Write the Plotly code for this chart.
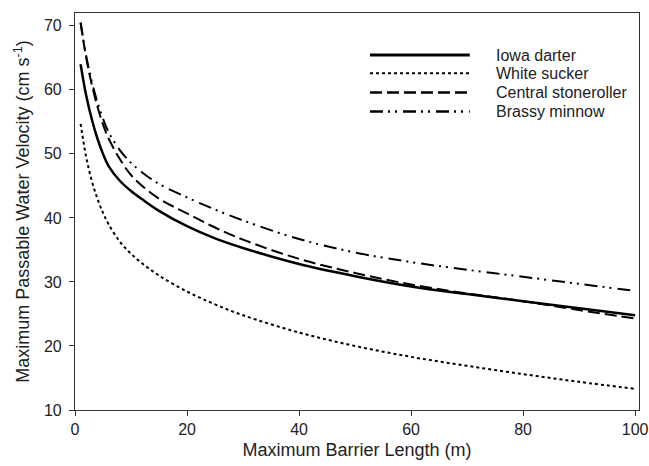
import plotly.graph_objects as go

barrier_length = [1, 2, 3, 4, 5, 6, 8, 10, 12, 15, 20, 25, 30, 40, 50, 60, 70, 80, 90, 100]

iowa_darter = [64.0, 59.1, 55.4, 52.4, 50.0, 48.1, 45.8, 44.2, 42.9, 41.1, 38.7, 36.8, 35.3,
               32.8, 30.9, 29.3, 28.1, 27.0, 25.9, 24.8]
white_sucker = [54.7, 49.5, 45.8, 43.0, 40.8, 39.0, 36.3, 34.4, 32.9, 31.0, 28.5, 26.5, 24.8,
                22.1, 20.0, 18.3, 16.9, 15.6, 14.4, 13.3]
central_stoneroller = [70.5, 65.0, 60.8, 57.4, 54.6, 52.4, 49.2, 46.7, 45.0, 43.0, 40.7, 38.5, 36.6,
                       33.6, 31.4, 29.6, 28.2, 27.0, 25.6, 24.3]
brassy_minnow = [70.5, 65.3, 61.3, 58.1, 55.5, 53.4, 50.6, 48.6, 47.1, 45.3, 43.2, 41.3, 39.6,
                 36.7, 34.6, 33.1, 31.9, 30.8, 29.7, 28.6]

series_names = ["Iowa darter", "White sucker", "Central stoneroller", "Brassy minnow"]
series_values = [iowa_darter, white_sucker, central_stoneroller, brassy_minnow]
dashes = ["solid", "dot", "12px,5px", "13px,5px,2px,5px,2px,6px"]
widths = [2.5, 2, 2, 2]

x_ticks = [0, 20, 40, 60, 80, 100]
y_ticks = [10, 20, 30, 40, 50, 60, 70]

FONT = "Arial, 'Liberation Sans', sans-serif"

fig = go.Figure()
for name, vals, dash, w in zip(series_names, series_values, dashes, widths):
    fig.add_trace(go.Scatter(
        x=barrier_length, y=vals, mode="lines", name=name,
        line=dict(color="black", width=w, dash=dash, shape="spline", smoothing=1.0),
        showlegend=False,
    ))

# manual legend (long line samples like the reference)
leg_y = [0.894, 0.848, 0.800, 0.752]
leg_w = [3, 2, 2.5, 2.5]
for name, dash, w, yy in zip(series_names, dashes, leg_w, leg_y):
    fig.add_shape(type="line", xref="paper", yref="paper",
                  x0=0.523, x1=0.70, y0=yy, y1=yy,
                  line=dict(color="black", width=w, dash=dash))
    fig.add_annotation(text=name, xref="paper", yref="paper", x=0.743, y=yy,
                       xanchor="left", yanchor="middle", showarrow=False,
                       font=dict(family=FONT, size=16, color="#222"))

axis_common = dict(
    showline=True, linecolor="#333", linewidth=1.2, mirror=True,
    ticks="outside", ticklen=5, tickcolor="#333", tickwidth=1.2,
    showgrid=False, zeroline=False, automargin=False,
    tickfont=dict(family=FONT, size=16, color="#222"),
)

fig.update_layout(
    width=649, height=466, autosize=False,
    margin=dict(l=75, r=10, t=13, b=56),
    paper_bgcolor="white", plot_bgcolor="white",
    xaxis=dict(range=[0, 100.7], tickvals=x_ticks,
               title=dict(text="Maximum Barrier Length (m)", standoff=6,
                          font=dict(family=FONT, size=18, color="#222")),
               **axis_common),
    yaxis=dict(range=[10, 72], tickvals=y_ticks, ticklabelstandoff=4,
               title=dict(text="Maximum Passable Water Velocity (cm s<sup>-1</sup>)", standoff=9,
                          font=dict(family=FONT, size=18, color="#222")),
               **axis_common),
)

# remove the default page margin so the figure fills the window exactly
fig.write_html("out.html",
               config={"displayModeBar": False, "responsive": False},
               post_script="document.body.style.margin='0';document.body.style.overflow='hidden';")
